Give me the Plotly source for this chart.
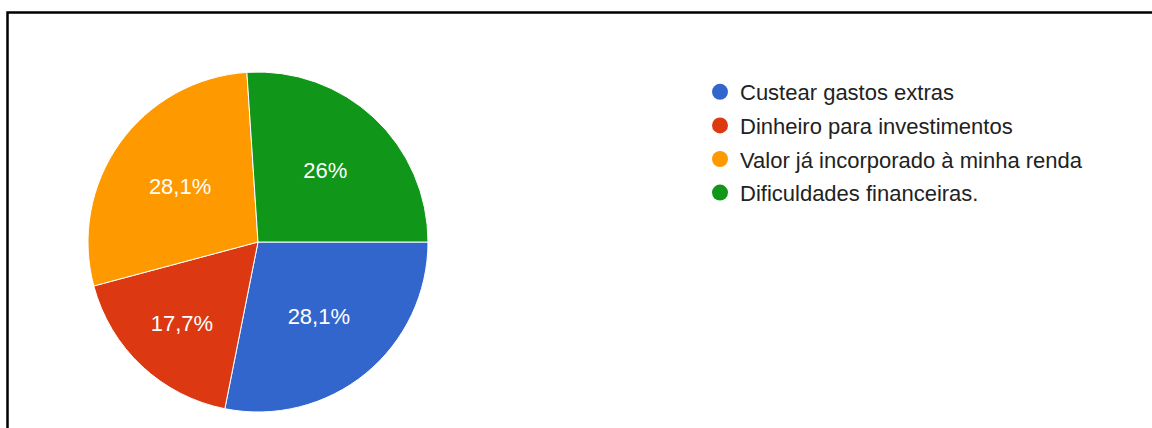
import plotly.graph_objects as go

categories = ["Custear gastos extras", "Dinheiro para investimentos",
              "Valor já incorporado à minha renda", "Dificuldades financeiras."]
counts = [27, 17, 27, 25]
colors = ["#3366CC", "#DC3912", "#FF9900", "#109618"]

W, H = 1152, 428
cx, cy, r = 258, 242, 170

fig = go.Figure()
fig.add_trace(go.Pie(
    labels=categories, values=counts, sort=False, direction="clockwise",
    rotation=90, marker=dict(colors=colors, line=dict(color="white", width=1)),
    texttemplate="%{percent:.3~p}", textposition="inside",
    insidetextorientation="horizontal",
    textfont=dict(family="Arial, Liberation Sans", size=22, color="white"),
    showlegend=False, hoverinfo="label+percent",
    domain=dict(x=[(cx - r) / W, (cx + r) / W], y=[1 - (cy + r) / H, 1 - (cy - r) / H]),
))

for i, (name, col) in enumerate(zip(categories, colors)):
    fig.add_trace(go.Scatter(
        x=[None], y=[None], mode="markers", name=name, legendgroup=str(i),
        marker=dict(color=col, size=16, symbol="circle"), showlegend=True,
    ))

top_y = 1 - 12.5 / H
left_x = 7.5 / W
fig.update_layout(
    width=W, height=H, margin=dict(l=0, r=0, t=0, b=0),
    paper_bgcolor="white", plot_bgcolor="white",
    separators=",.",
    xaxis=dict(visible=False, showgrid=False, zeroline=False, showline=False),
    yaxis=dict(visible=False, showgrid=False, zeroline=False, showline=False),
    legend=dict(x=700 / W, y=1 - 71 / H, xanchor="left", yanchor="top",
                font=dict(family="Arial, Liberation Sans", size=22, color="#222222"),
                tracegroupgap=2, itemsizing="trace", bgcolor="rgba(0,0,0,0)"),
    shapes=[
        dict(type="path", xref="paper", yref="paper",
             path=f"M {left_x},-0.1 L {left_x},{top_y} L 1.2,{top_y}",
             line=dict(color="black", width=2.5)),
    ],
)

fig.write_html(
    "out.html", config={"displayModeBar": False},
    post_script=("document.documentElement.style.margin='0';"
                 "document.body.style.margin='0';"
                 "document.body.style.overflow='hidden';"
                 "document.documentElement.style.overflow='hidden';"),
)
